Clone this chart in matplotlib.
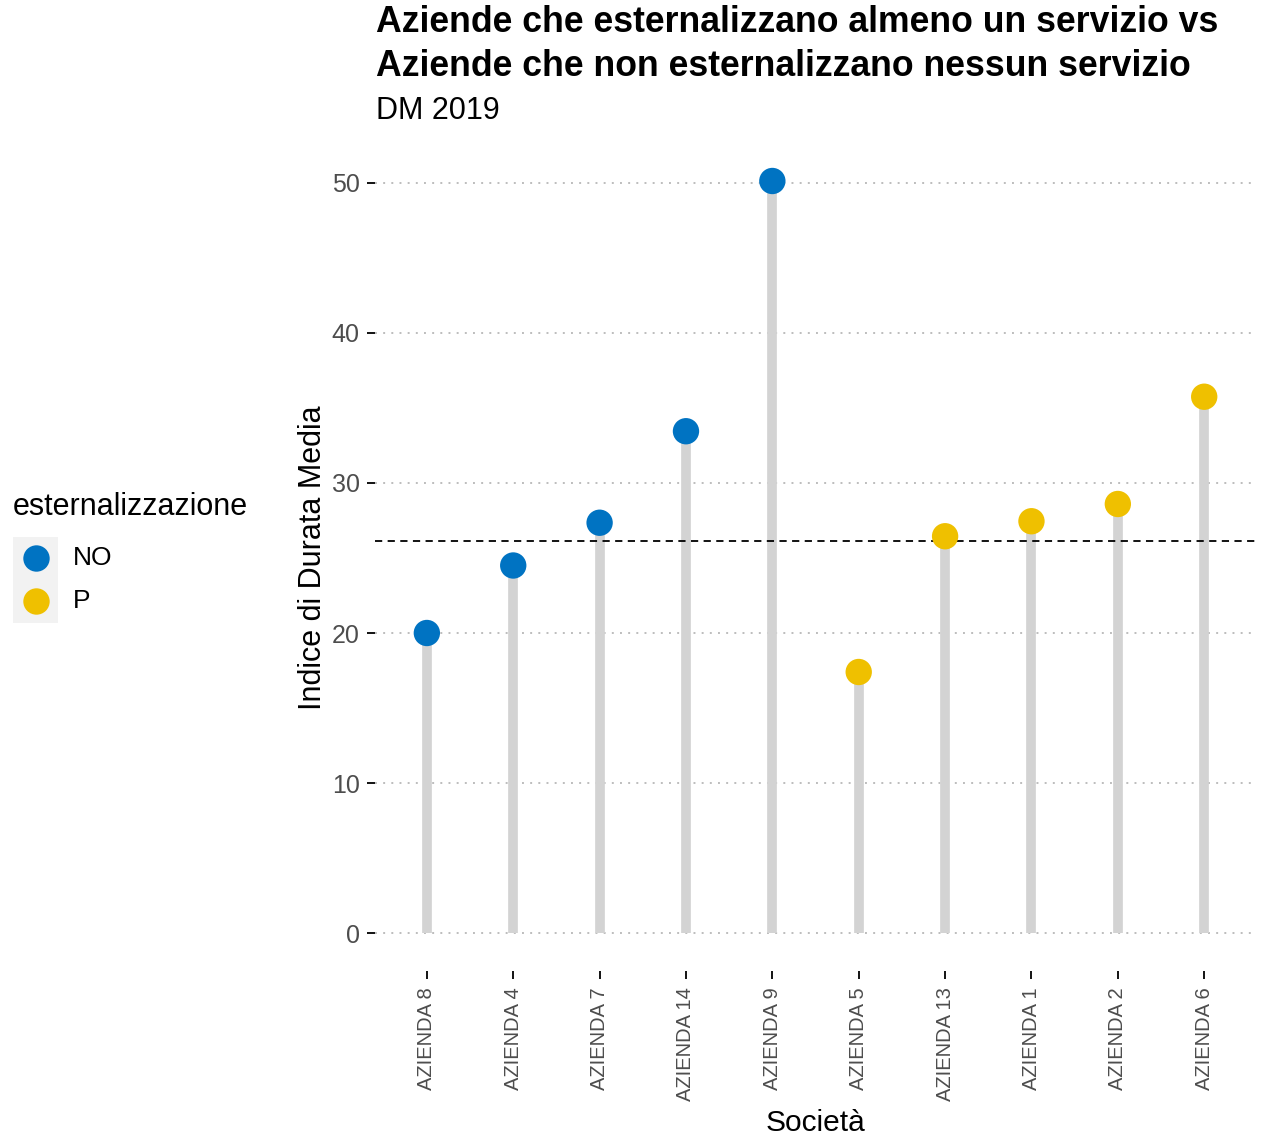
import numpy as np
import matplotlib.pyplot as plt
from matplotlib.lines import Line2D
from matplotlib.patches import Rectangle

plt.rcParams['font.family'] = ['Liberation Sans', 'DejaVu Sans']

# -----------------------------------
# Data
# -----------------------------------
aziende = ["AZIENDA 8", "AZIENDA 4", "AZIENDA 7", "AZIENDA 14", "AZIENDA 9",
           "AZIENDA 5", "AZIENDA 13", "AZIENDA 1", "AZIENDA 2", "AZIENDA 6"]
indice = [20.0, 24.5, 27.35, 33.45, 50.13, 17.4, 26.45, 27.45, 28.6, 35.75]
gruppo = ["NO", "NO", "NO", "NO", "NO", "P", "P", "P", "P", "P"]
media = 26.13

colori = {"NO": "#0073C2", "P": "#EFC000"}

# -----------------------------------
# Plot
# -----------------------------------
fig = plt.figure(figsize=(12.64, 11.37), dpi=100)
ax = fig.add_axes([0.2967, 0.1464, 0.697, 0.727])

x = np.arange(len(aziende))

ax.vlines(x, 0, indice, color="#D3D3D3", linewidth=7, zorder=2)
ax.axhline(media, color="black", linestyle=(0, (4, 3)), linewidth=1.3, zorder=3)
ax.scatter(x, indice, s=360, c=[colori[g] for g in gruppo], zorder=4,
           edgecolors="none")

ax.set_xlim(-0.6, len(aziende) - 0.4)
ax.set_ylim(-2.5, 52.6)
ax.set_yticks([0, 10, 20, 30, 40, 50])
ax.set_xticks(x)
ax.set_xticklabels(aziende, rotation=90, fontsize=14.5, color="#4D4D4D")
ax.tick_params(axis="y", labelsize=18, labelcolor="#4D4D4D", length=6,
               width=1.3, color="black", pad=5)
ax.tick_params(axis="x", length=6, width=1.3, color="black", pad=6)

ax.grid(axis="y", color="#BDBDBD", linestyle=(0, (1, 3.2)), linewidth=1.4)
ax.set_axisbelow(True)
for s in ax.spines.values():
    s.set_visible(False)

ax.set_xlabel("Società", fontsize=21.5, labelpad=6)
ax.set_ylabel("Indice di Durata Media", fontsize=22, labelpad=3)

fig.text(376 / 1264, 1 - 23 / 1137, "Aziende che esternalizzano almeno un servizio vs",
         fontsize=25.7, fontweight="bold", va="center", ha="left")
fig.text(376 / 1264, 1 - 66 / 1137, "Aziende che non esternalizzano nessun servizio",
         fontsize=25.7, fontweight="bold", va="center", ha="left")
fig.text(376 / 1264, 1 - 111 / 1137, "DM 2019", fontsize=22, va="center", ha="left")

# -----------------------------------
# Legend
# -----------------------------------
fig.patches.append(Rectangle((13 / 1264, 1 - 623 / 1137), 45 / 1264, 86 / 1137,
                             transform=fig.transFigure, facecolor="#F2F2F2",
                             edgecolor="none", zorder=0))
fig.text(13 / 1264, 1 - 507 / 1137, "esternalizzazione", fontsize=22,
         va="center", ha="left")
for i, k in enumerate(colori):
    yy = 1 - (558 + 43 * i) / 1137
    fig.add_artist(Line2D([36 / 1264], [yy], marker="o", linestyle="",
                          markersize=19, markerfacecolor=colori[k],
                          markeredgecolor="none", transform=fig.transFigure))
    fig.text(73 / 1264, yy, k, fontsize=19, va="center", ha="left")

fig.savefig("out.png", dpi=100)
